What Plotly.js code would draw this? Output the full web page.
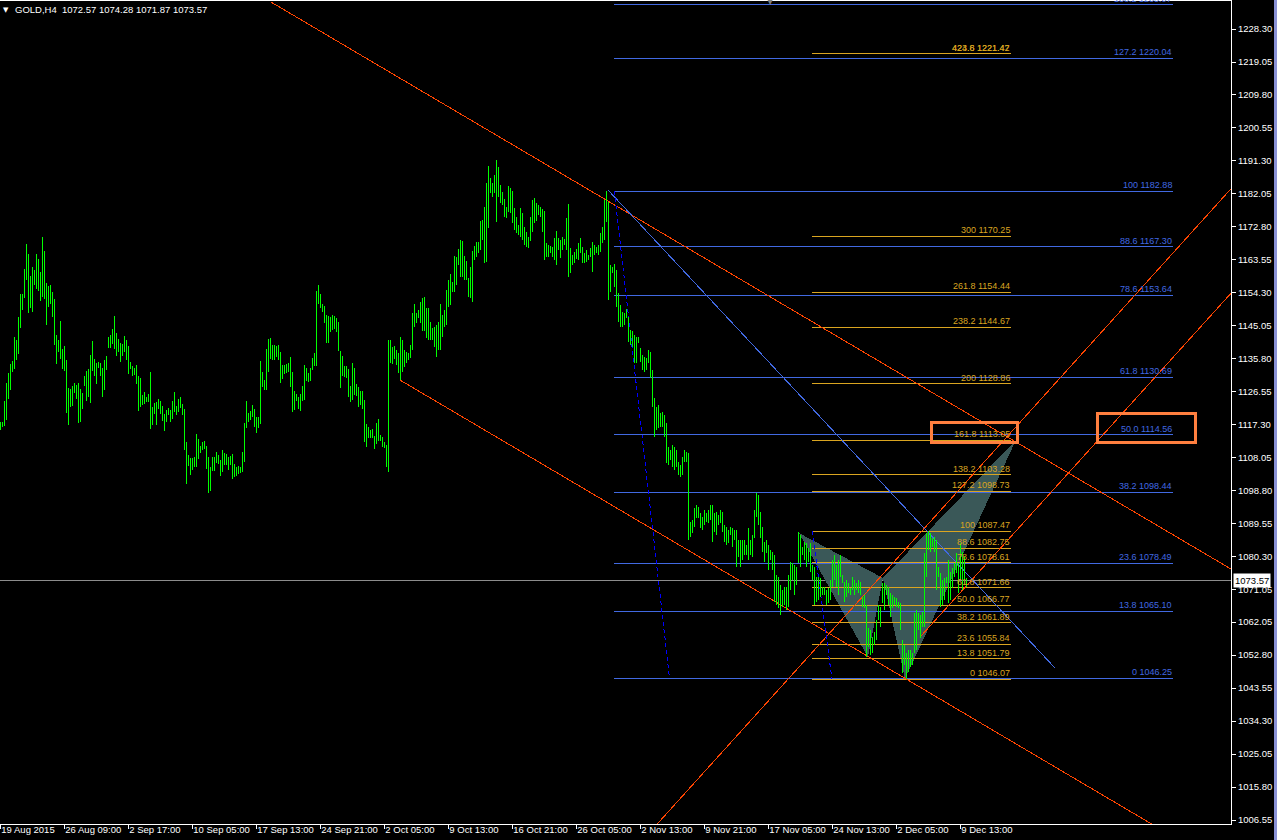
<!DOCTYPE html>
<html><head><meta charset="utf-8">
<script src="https://cdn.plot.ly/plotly-3.0.1.min.js"></script>
<style>
html,body{margin:0;padding:0;background:#000;overflow:hidden}
#chart{width:1277px;height:840px}
.shapelayer path,.barlayer path{shape-rendering:crispEdges}
</style>
</head><body><div id="chart"></div>
<script>
// ---- H4 bars: high / low per bar (bar index 0..483) ----
const high = [
1118.0,1118.2,1124.0,1129.0,1131.9,1134.4,1135.2,1142.0,1141.1,1147.6,
1154.0,1154.0,1161.0,1168.0,1165.2,1159.1,1161.6,1160.7,1165.2,1163.8,
1160.2,1170.0,1166.1,1157.1,1156.3,1156.5,1154.6,1152.6,1142.5,1141.1,
1146.4,1138.6,1139.4,1135.5,1127.7,1127.4,1128.2,1129.1,1128.5,1129.1,
1127.4,1126.3,1131.0,1132.4,1133.0,1136.9,1140.8,1135.8,1134.7,1135.0,
1134.7,1133.3,1135.5,1136.6,1142.0,1142.5,1144.2,1147.8,1143.1,1141.4,
1140.3,1140.0,1142.2,1141.1,1139.4,1135.0,1133.8,1133.3,1134.1,1131.0,
1130.5,1125.7,1126.5,1125.1,1126.0,1132.2,1122.3,1123.5,1123.7,1124.6,
1124.0,1122.6,1120.4,1121.5,1122.1,1121.5,1124.0,1126.5,1122.6,1124.6,
1125.1,1123.2,1121.8,1112.5,1108.9,1108.0,1108.0,1108.3,1114.8,1113.4,
1111.4,1112.5,1112.8,1111.4,1108.3,1105.5,1108.3,1108.3,1109.7,1108.9,
1107.5,1110.3,1109.4,1109.2,1108.3,1108.6,1109.2,1106.4,1105.5,1105.8,
1105.5,1109.7,1117.9,1124.0,1120.7,1121.2,1122.9,1121.8,1119.5,1119.5,
1135.2,1132.2,1129.9,1138.6,1141.4,1141.7,1139.7,1139.7,1139.4,1139.7,
1137.8,1134.1,1134.1,1134.4,1134.7,1136.3,1132.2,1126.8,1126.0,1125.1,
1126.0,1128.2,1134.1,1133.3,1131.9,1133.3,1136.1,1137.5,1154.9,1156.5,
1154.0,1151.2,1150.6,1148.1,1147.8,1147.6,1148.1,1147.8,1147.3,1146.2,
1138.0,1136.6,1133.8,1133.8,1133.0,1128.2,1134.7,1133.3,1128.8,1127.9,
1126.8,1126.8,1124.3,1117.6,1116.7,1115.9,1116.2,1114.2,1117.9,1119.0,
1114.5,1113.9,1112.5,1111.7,1141.1,1141.1,1139.2,1139.4,1138.3,1137.5,
1141.9,1141.1,1138.3,1137.8,1137.4,1139.7,1148.6,1151.1,1148.6,1149.5,
1151.9,1152.8,1153.3,1150.0,1150.0,1146.3,1144.4,1144.9,1145.3,1146.3,
1151.2,1148.1,1149.5,1155.1,1157.8,1159.6,1157.5,1164.7,1164.5,1166.5,
1169.2,1169.0,1164.7,1163.4,1158.4,1161.7,1166.2,1167.5,1168.7,1168.7,
1174.5,1174.8,1178.5,1185.0,1190.0,1186.4,1185.0,1187.4,1191.6,1189.7,
1184.6,1182.7,1180.6,1178.5,1184.3,1183.6,1183.0,1178.0,1175.7,1173.4,
1178.0,1176.6,1172.9,1171.5,1170.1,1175.5,1180.4,1180.8,1179.4,1179.0,
1178.5,1177.8,1177.4,1168.2,1167.8,1167.6,1167.1,1169.6,1171.7,1169.6,
1169.2,1169.9,1169.3,1175.2,1179.2,1166.8,1164.9,1165.9,1166.6,1168.4,
1169.6,1167.1,1165.4,1166.3,1164.9,1166.8,1168.7,1167.8,1167.3,1167.8,
1171.0,1172.9,1180.4,1182.88,1179.9,1162.1,1161.7,1162.4,1160.7,1154.2,
1150.9,1149.1,1148.6,1149.7,1147.7,1143.9,1143.5,1142.5,1142.0,1142.0,
1138.8,1136.9,1136.4,1136.0,1138.3,1137.8,1132.7,1124.8,1122.4,1122.9,
1120.6,1121.0,1120.1,1117.8,1111.2,1110.3,1111.7,1111.2,1110.3,1107.0,
1106.1,1108.4,1110.3,1109.8,1109.3,1090.2,1090.7,1093.9,1094.9,1094.4,
1092.5,1091.6,1093.5,1092.5,1093.5,1094.9,1094.9,1092.5,1093.0,1092.1,
1093.5,1093.0,1089.3,1088.8,1087.9,1088.8,1088.3,1087.9,1087.9,1085.1,
1085.1,1085.1,1085.1,1083.7,1088.3,1085.1,1086.5,1093.5,1098.1,1097.7,
1093.0,1088.8,1084.6,1085.1,1083.7,1082.3,1081.8,1080.8,1075.2,1074.8,
1072.4,1071.0,1072.0,1072.0,1075.2,1079.0,1078.5,1078.0,1077.6,1087.4,
1086.5,1083.2,1084.6,1084.1,1082.7,1084.1,1078.0,1077.6,1074.8,1074.8,
1074.3,1072.0,1072.0,1071.0,1071.5,1073.8,1079.4,1080.8,1078.0,1079.4,
1080.8,1075.2,1073.4,1073.8,1072.9,1071.5,1074.8,1073.8,1072.9,1073.8,
1073.4,1069.2,1069.6,1066.8,1060.3,1059.8,1057.9,1059.3,1062.6,1066.8,
1066.4,1072.9,1072.9,1072.4,1072.0,1070.1,1069.6,1069.2,1068.7,1067.8,
1067.3,1057.0,1055.6,1053.3,1054.2,1054.2,1053.3,1064.5,1065.4,1064.5,
1064.0,1065.0,1081.3,1087.0,1087.47,1086.9,1085.5,1086.0,1085.1,1077.6,
1075.7,1073.8,1074.3,1074.8,1079.4,1076.2,1077.1,1078.5,1081.3,1078.5,
1084.1,1081.8,1080.4,1074.28];
const low = [
1115.9,1116.6,1117.1,1118.7,1124.6,1127.1,1132.2,1133.1,1135.5,1137.2,
1144.5,1149.5,1152.9,1157.9,1148.7,1150.1,1149.0,1156.5,1155.4,1154.9,
1152.0,1153.2,1152.6,1145.3,1150.4,1151.2,1147.6,1139.7,1134.4,1137.8,
1135.8,1133.0,1132.4,1120.7,1117.3,1122.3,1122.6,1126.3,1124.6,1117.9,
1118.1,1121.8,1128.2,1124.0,1125.1,1123.5,1132.4,1131.0,1128.8,1133.3,
1131.0,1125.1,1127.1,1132.7,1138.9,1138.9,1140.0,1138.6,1136.6,1137.8,
1135.0,1136.6,1137.8,1135.5,1131.6,1133.0,1131.0,1131.3,1128.8,1121.2,
1122.3,1122.9,1123.2,1123.7,1123.7,1116.2,1117.3,1120.4,1117.3,1121.8,
1120.4,1118.4,1115.6,1118.1,1120.1,1118.1,1119.0,1120.9,1120.1,1120.9,
1122.1,1120.1,1110.3,1100.7,1105.8,1103.3,1104.7,1105.5,1105.5,1107.8,
1109.4,1110.3,1110.6,1105.0,1098.2,1098.8,1104.4,1104.4,1106.6,1106.4,
1103.0,1104.1,1106.1,1106.1,1104.7,1106.1,1102.1,1102.7,1103.0,1103.5,
1103.8,1104.1,1106.9,1116.4,1118.1,1118.7,1119.5,1116.7,1115.0,1116.4,
1117.6,1127.9,1127.1,1127.1,1132.2,1135.8,1135.5,1135.5,1136.3,1135.5,
1129.1,1130.2,1131.6,1131.9,1132.2,1127.9,1120.9,1121.5,1124.0,1121.8,
1121.2,1124.0,1124.3,1129.6,1129.3,1129.6,1132.7,1133.8,1133.8,1151.2,
1150.1,1149.0,1145.9,1140.3,1140.3,1143.4,1143.9,1144.2,1143.4,1138.0,
1127.7,1131.0,1130.7,1130.5,1125.1,1123.7,1124.3,1125.7,1125.4,1122.3,
1122.9,1121.8,1112.5,1111.1,1113.6,1113.6,1113.6,1110.6,1112.0,1112.8,
1112.8,1111.1,1110.8,1105.5,1104.1,1134.7,1134.4,1135.8,1134.1,1131.9,
1129.9,1132.2,1133.6,1134.6,1135.5,1136.0,1138.3,1144.9,1145.8,1147.2,
1145.8,1143.5,1143.5,1141.6,1141.1,1141.1,1141.1,1139.2,1136.4,1138.3,
1138.3,1142.0,1144.9,1145.3,1150.5,1150.9,1154.7,1154.7,1156.5,1162.1,
1158.9,1158.7,1157.9,1157.9,1153.3,1152.8,1151.9,1163.5,1164.5,1165.4,
1166.3,1169.2,1162.6,1163.1,1172.4,1182.2,1181.3,1182.2,1174.3,1181.3,
1179.4,1179.0,1175.7,1175.2,1177.1,1176.6,1173.8,1172.0,1171.0,1170.6,
1170.1,1169.2,1167.8,1167.3,1166.8,1169.0,1171.5,1173.8,1174.6,1176.2,
1175.7,1171.5,1163.5,1164.5,1164.5,1165.4,1164.5,1163.5,1162.1,1166.3,
1164.0,1166.3,1167.8,1166.3,1158.9,1159.8,1162.1,1162.6,1163.7,1163.5,
1165.4,1162.6,1162.6,1163.1,1163.5,1164.5,1160.3,1164.9,1165.4,1164.9,
1165.9,1168.2,1169.2,1174.3,1152.3,1154.7,1159.8,1156.1,1150.5,1146.3,
1144.9,1144.9,1145.3,1147.2,1140.6,1139.7,1139.2,1134.6,1134.6,1140.2,
1135.0,1132.7,1132.2,1132.7,1134.6,1130.4,1122.4,1114.0,1115.9,1116.4,
1116.8,1116.8,1114.0,1106.5,1106.1,1107.5,1105.6,1104.7,1105.6,1103.3,
1102.8,1103.3,1107.0,1107.0,1085.0,1086.0,1086.9,1088.8,1091.1,1091.1,
1088.3,1087.9,1089.3,1090.2,1089.7,1090.7,1084.6,1087.4,1086.5,1089.3,
1089.7,1087.4,1084.6,1083.7,1084.1,1086.5,1083.2,1085.1,1077.6,1080.4,
1077.6,1079.4,1080.8,1080.8,1079.4,1080.8,1080.4,1085.5,1091.6,1089.3,
1085.5,1081.8,1079.0,1081.3,1076.6,1079.4,1076.6,1067.8,1066.8,1065.9,
1064.0,1066.4,1066.8,1065.4,1066.4,1071.0,1073.8,1069.6,1072.4,1078.5,
1077.6,1080.8,1079.4,1077.6,1079.0,1076.2,1073.8,1066.8,1067.8,1068.2,
1069.2,1069.6,1069.6,1066.8,1067.3,1068.2,1072.0,1073.8,1072.0,1069.6,
1074.8,1072.9,1067.8,1069.2,1070.1,1069.6,1071.0,1069.6,1071.0,1070.1,
1069.6,1066.4,1065.9,1052.3,1055.1,1052.8,1053.3,1055.6,1057.0,1062.6,
1060.7,1067.3,1065.4,1069.6,1066.8,1063.6,1065.9,1066.8,1066.4,1065.9,
1059.8,1047.7,1050.0,1046.07,1048.1,1049.5,1050.0,1053.3,1054.2,1059.8,
1057.5,1060.7,1060.7,1074.8,1082.3,1081.8,1083.2,1081.8,1071.0,1074.8,
1066.4,1066.8,1068.2,1072.9,1067.3,1068.2,1071.5,1074.8,1075.7,1070.1,
1073.8,1071.0,1072.4,1071.87];

// ---- axes ----
const tickBars = [0,32,64,96,128,160,192,224,256,288,320,352,384,416,448,480];
const tickText = ["19 Aug 2015","26 Aug 09:00","2 Sep 17:00","10 Sep 05:00","17 Sep 13:00","24 Sep 21:00","2 Oct 05:00","9 Oct 13:00","16 Oct 21:00","26 Oct 05:00","2 Nov 13:00","9 Nov 21:00","17 Nov 05:00","24 Nov 13:00","2 Dec 05:00","9 Dec 13:00"];
const priceTicks = [1006.55,1015.80,1025.05,1034.30,1043.55,1052.80,1062.05,1071.05,1080.30,1089.55,1098.80,1108.05,1117.30,1126.55,1135.80,1145.05,1154.30,1163.55,1172.80,1182.05,1191.30,1200.55,1209.80,1219.05,1228.30];
const lastBar = {symbol:"GOLD,H4", open:1072.57, high:1074.28, low:1071.87, close:1073.57};

// ---- drawn objects (bar index, price) ----
const channelUpper = [[135.3,1235.87],[615.3,1076.92]];
const channelLower = [[199.8,1129.90],[615.3,992.3]];
const riseLine1 = [[320.0,1000.2],[615.3,1183.5]];
const riseLine2 = [[459.8,1057.8],[615.3,1154.2]];
const blueTrend = [[303.8,1183.17],[527.3,1049.17]];

const blueFibAnchors = [[307.0,1182.88],[334.6,1046.25]];
const blueFibSpan = [306.8,586.3];
const blueFibLevels = ["0","13.8","23.6","38.2","50.0","61.8","78.6","88.6","100","127.2","138.2"];
const blueFibPrices = [1046.25,1065.10,1078.49,1098.44,1114.56,1130.69,1153.64,1167.30,1182.88,1220.04,1235.07];

const orangeFibAnchors = [[406.0,1087.47],[415.8,1046.07]];
const orangeFibSpan = [405.8,505.3];
const orangeFibLevels = ["0","13.8","23.6","38.2","50.0","61.8","78.6","88.6","100","127.2","138.2","161.8","200","238.2","261.8","300","423.6"];
const orangeFibPrices = [1046.07,1051.79,1055.84,1061.89,1066.77,1071.66,1078.61,1082.75,1087.47,1098.73,1103.28,1113.05,1128.86,1144.67,1154.44,1170.25,1221.42];
const orangeExtraLabel = {level:"424.8", price:1221.47};

const patternX = [399.3,1087.0], patternA = [433.8,1052.2], patternB = [441.3,1074.4], patternC = [452.3,1046.07], patternD = [507.8,1113.05];
const boxes = [[[465.8,1112.52],[508.8,1117.85]],[[548.8,1112.52],[597.8,1120.65]]];
const topMarkerBar = 385.3;

// ---- styles ----
const RED = '#ff4500', BLUE = '#4169e1', GOLD = '#daa520', FONT = 'Liberation Sans, Arial, sans-serif';

const idx = high.map((_, i) => i);
const shapes = [];
const annotations = [];
function seg(p0, p1, color, dash) {
  shapes.push({type:'line', xref:'x', yref:'y', x0:p0[0], y0:p0[1], x1:p1[0], y1:p1[1], layer:'below',
    line:{color:color, width:1, dash:dash || 'solid'}});
}
const tri = (a,b,c) => `M${a[0]},${a[1]}L${b[0]},${b[1]}L${c[0]},${c[1]}Z`;
shapes.push({type:'path', xref:'x', yref:'y', path:tri(patternX,patternA,patternB), fillcolor:'rgb(58,88,88)', line:{width:0}, layer:'below'});
shapes.push({type:'path', xref:'x', yref:'y', path:tri(patternB,patternC,patternD), fillcolor:'rgb(58,88,88)', line:{width:0}, layer:'below'});

// price line
shapes.push({type:'line', xref:'paper', yref:'y', x0:0, x1:1, y0:lastBar.close, y1:lastBar.close, layer:'below', line:{color:'#8c8c8c', width:1}});

blueFibPrices.forEach((p,i) => {
  seg([blueFibSpan[0],p],[blueFibSpan[1],p], BLUE);
  annotations.push({xref:'x', yref:'y', x:blueFibSpan[1], y:p, text:blueFibLevels[i]+' '+p.toFixed(2), showarrow:false,
    xanchor:'right', yanchor:'bottom', borderpad:0, yshift:0, font:{family:FONT, size:9, color:BLUE}});
});
orangeFibPrices.forEach((p,i) => {
  seg([orangeFibSpan[0],p],[orangeFibSpan[1],p], GOLD);
  annotations.push({xref:'x', yref:'y', x:orangeFibSpan[1], y:p, text:orangeFibLevels[i]+' '+p.toFixed(2), showarrow:false,
    xanchor:'right', yanchor:'bottom', borderpad:0, yshift:0, font:{family:FONT, size:9, color:GOLD}});
});
annotations.push({xref:'x', yref:'y', x:orangeFibSpan[1], y:orangeFibPrices[orangeFibPrices.length-1], text:orangeExtraLabel.level+' '+orangeExtraLabel.price.toFixed(2), showarrow:false,
    xanchor:'right', yanchor:'bottom', borderpad:0, font:{family:FONT, size:9, color:GOLD}});

seg(channelUpper[0], channelUpper[1], RED);
seg(channelLower[0], channelLower[1], RED);
seg(riseLine1[0], riseLine1[1], RED);
seg(riseLine2[0], riseLine2[1], RED);
seg(blueTrend[0], blueTrend[1], BLUE);
seg(blueFibAnchors[0], blueFibAnchors[1], '#0000ff', '4px,3px');
seg(orangeFibAnchors[0], orangeFibAnchors[1], '#0000ff', '4px,3px');

boxes.forEach(b => shapes.push({type:'rect', xref:'x', yref:'y', x0:b[0][0], y0:b[0][1], x1:b[1][0], y1:b[1][1], layer:'above',
  line:{color:'#ff7f3f', width:3}, fillcolor:'rgba(0,0,0,0)'}));

// right window strip
shapes.push({type:'rect', xref:'paper', yref:'paper', x0:1.0349, x1:1.04, y0:-0.05, y1:1.05, line:{width:0}, fillcolor:'#8a92d6', layer:'above'});

// header
annotations.push({xref:'paper', yref:'paper', x:0, y:1, xanchor:'left', yanchor:'top', xshift:2, yshift:-4, showarrow:false, borderpad:0,
  text:'\u25BC', font:{family:'DejaVu Sans', size:7, color:'#ffffff'}});
annotations.push({xref:'paper', yref:'paper', x:0, y:1, xanchor:'left', yanchor:'top', xshift:14, yshift:-2, showarrow:false, borderpad:0,
  text:lastBar.symbol+'\u00a0\u00a0'+[lastBar.open,lastBar.high,lastBar.low,lastBar.close].map(v=>v.toFixed(2)).join(' '),
  font:{family:FONT, size:9.5, color:'#ffffff'}});
// last price box
annotations.push({xref:'paper', yref:'y', x:1, y:lastBar.close, xanchor:'left', yanchor:'middle', xshift:2, showarrow:false,
  text:lastBar.close.toFixed(2), bgcolor:'#ffffff', borderpad:1, font:{family:FONT, size:9.5, color:'#000000'}});
// small top marker
annotations.push({xref:'x', yref:'paper', x:topMarkerBar, y:1, xanchor:'center', yanchor:'middle', showarrow:false, borderpad:0,
  text:'\u25BC', font:{family:'DejaVu Sans', size:8, color:'#808080'}});

const trace = {type:'bar', x:idx, y:high.map((h,i)=>Math.max(h-low[i],0.2)), base:low, width:0.5,
  marker:{color:'#00ff00', line:{width:0}}, hoverinfo:'skip'};

const layout = {
  width:1277, height:840, margin:{l:0, r:46, t:1, b:16},
  paper_bgcolor:'#000', plot_bgcolor:'#000', showlegend:false, bargap:0,
  font:{family:FONT, size:9.5, color:'#ffffff'},
  xaxis:{range:[-0.165,615.33], showgrid:false, zeroline:false, showline:true, linecolor:'#ffffff', linewidth:1, mirror:true,
    ticks:'outside', ticklen:4, tickcolor:'#ffffff', tickmode:'array', tickvals:tickBars, ticktext:tickText, tickangle:0,
    ticklabelposition:'outside right', ticklabelstandoff:-3, tickfont:{family:FONT, size:9.5, color:'#ffffff'}, fixedrange:true},
  yaxis:{side:'right', range:[1005.43,1236.15], showgrid:false, zeroline:false, showline:true, linecolor:'#ffffff', linewidth:1,
    ticks:'outside', ticklen:4, tickcolor:'#ffffff', tickmode:'array', tickvals:priceTicks, tickformat:'.2f',
    tickfont:{family:FONT, size:9.5, color:'#ffffff'}, fixedrange:true},
  shapes:shapes, annotations:annotations
};
Plotly.newPlot('chart', [trace], layout, {staticPlot:true, displayModeBar:false});
</script>
</body></html>
